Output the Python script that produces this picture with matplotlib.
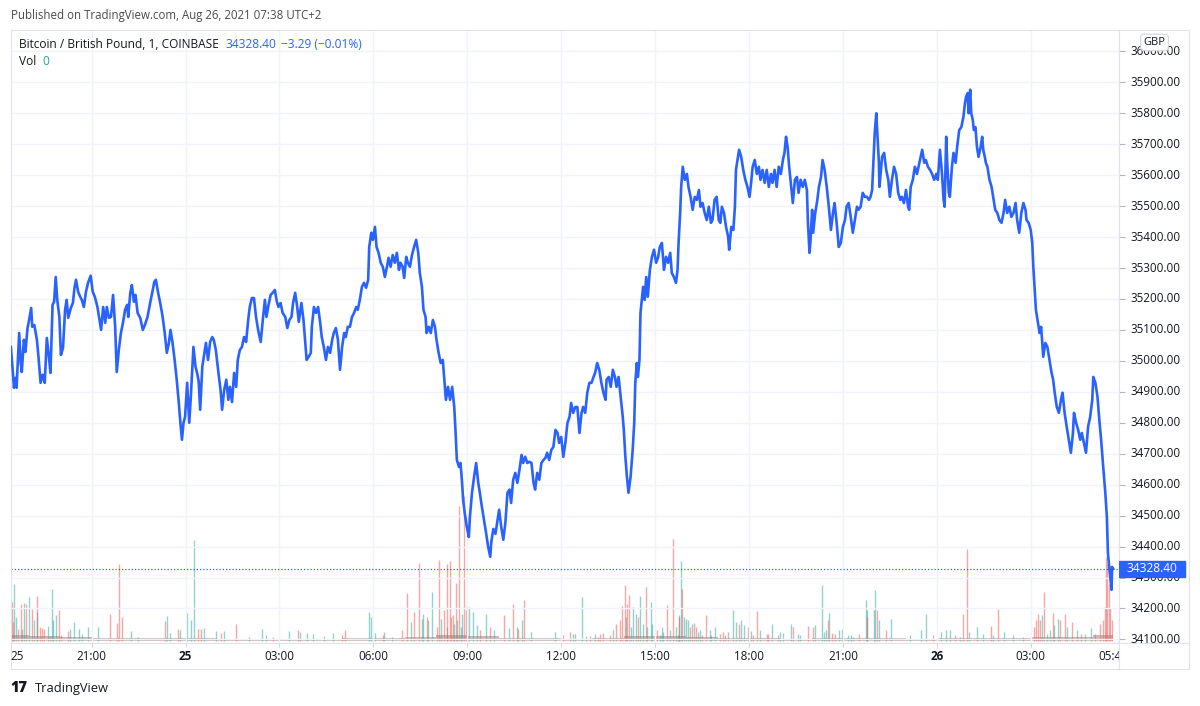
import numpy as np
import matplotlib.pyplot as plt
from matplotlib.patches import Rectangle

plt.rcParams['font.family'] = ['Open Sans', 'DejaVu Sans']

# BTC/GBP 1 min, COINBASE. times = minutes after 24 Aug 2021 18:00 UTC
price_min = [
    25, 29, 31, 34, 36, 41, 44, 46, 50, 53, 57, 60, 64, 66, 70, 75, 78, 82, 86, 90,
    94, 98, 101, 105, 108, 111, 114, 118, 121, 125, 129, 132, 135, 140, 144, 147, 150, 154, 158, 161,
    165, 169, 173, 178, 182, 186, 191, 195, 198, 202, 206, 209, 213, 217, 221, 225, 228, 232, 236, 240,
    244, 248, 250, 254, 257, 261, 264, 268, 273, 278, 282, 287, 292, 296, 300, 303, 307, 312, 316, 320,
    324, 328, 331, 335, 339, 343, 347, 350, 353, 356, 359, 363, 367, 370, 375, 379, 382, 385, 388, 392,
    396, 399, 403, 407, 411, 414, 418, 423, 427, 430, 434, 438, 442, 445, 449, 453, 457, 460, 464, 468,
    472, 476, 480, 483, 487, 491, 495, 499, 504, 508, 512, 515, 519, 523, 527, 531, 535, 538, 542, 546,
    551, 555, 559, 563, 566, 570, 574, 577,
    582, 586, 589, 592, 596, 600, 602, 606, 610, 614, 618, 621, 625, 629, 633, 637, 641, 644, 648, 652,
    656, 660, 664, 667, 671, 675, 679, 683, 687, 690, 694, 698, 702, 706, 710, 712, 716, 719, 723, 726,
    730, 734, 738, 742, 746, 749, 753, 757, 761, 765, 769, 772, 776, 779, 783, 786, 790, 794, 798, 802,
    806, 809, 813, 816, 820, 822, 826, 830, 834, 838, 841, 845, 849, 853, 857, 859, 863, 867, 871, 875,
    877, 880, 884, 887, 890, 892, 895, 899, 903, 905, 909, 913, 917, 921, 924, 928, 932, 936, 940, 944,
    946, 950, 954, 958, 961, 965, 969, 973, 977, 981, 984, 988, 992, 996, 1000, 1004, 1007, 1011, 1015, 1019,
    1023, 1027, 1030, 1034, 1038, 1042, 1046, 1050, 1053, 1057, 1061, 1065, 1069, 1073, 1076, 1080, 1084, 1088, 1092, 1096,
    1099, 1103, 1107, 1111, 1115, 1119, 1122, 1126, 1130, 1134, 1138, 1142, 1145, 1149, 1153, 1157, 1161, 1165, 1167, 1171,
    1175, 1179, 1183, 1186, 1190, 1194, 1198, 1200, 1203, 1206, 1209, 1213, 1217, 1220, 1222, 1225, 1227, 1230, 1232, 1235,
    1237, 1240, 1243, 1246, 1250, 1254, 1258, 1262, 1266, 1269, 1273, 1277, 1281, 1285, 1289, 1292, 1296, 1300, 1303, 1305,
    1308, 1310, 1313, 1317, 1321, 1324, 1328, 1332, 1336, 1340, 1344, 1347, 1351, 1355, 1359, 1363, 1367, 1370, 1374, 1378,
    1382,
    1385, 1388, 1392, 1396, 1400, 1402, 1406, 1410, 1413, 1415, 1419, 1421, 1425, 1429, 1433, 1437, 1441, 1444, 1447, 1451,
    1455, 1459, 1462, 1466, 1470, 1474, 1478, 1482, 1485, 1489, 1493, 1497, 1501, 1505, 1508, 1511, 1514, 1517, 1521, 1524,
    1528, 1532, 1535, 1539, 1543, 1547, 1551, 1553, 1556, 1558, 1561, 1563, 1567, 1571, 1574, 1578, 1581, 1585, 1589, 1593,
    1597, 1601, 1604, 1608, 1612, 1616, 1620, 1624, 1627, 1631, 1635, 1639, 1643, 1647, 1650, 1654, 1658, 1662, 1666, 1670,
    1673, 1676, 1678, 1681, 1684, 1686, 1689, 1690, 1693, 1695, 1699, 1703, 1707, 1710, 1714, 1718, 1722, 1726, 1730, 1733,
    1737, 1741, 1745, 1747, 1750, 1754, 1758, 1762, 1765, 1769, 1772, 1776, 1779, 1783, 1787, 1791, 1795, 1799, 1802, 1806,
    1810, 1813, 1815, 1818, 1820, 1823, 1825, 1829, 1832, 1836, 1839, 1843, 1847, 1851, 1854, 1856, 1859, 1861, 1864, 1866,
    1869, 1871, 1874, 1877, 1880, 1884, 1887, 1889, 1892, 1894, 1897, 1901, 1905, 1908, 1912, 1916, 1920, 1924, 1928, 1931,
    1935, 1939, 1943, 1947, 1951, 1954, 1958, 1962, 1966, 1970, 1972, 1976, 1980, 1983, 1985, 1988, 1990, 1993, 1997, 2000,
    2004, 2008, 2012, 2016, 2020, 2023, 2026, 2030, 2034, 2038, 2041, 2045, 2049, 2053, 2057, 2061, 2063, 2067, 2071, 2075,
    2078, 2082, 2086, 2090, 2094, 2098, 2100, 2104, 2108, 2112, 2115, 2119, 2123, 2126, 2128, 2131, 2133, 2135, 2136, 2138,
]
price = [
    35045, 34961, 34913, 34945, 34913, 35090, 34993, 34964, 35068, 35029, 35106, 35132, 35171, 35110, 35116, 35068, 35013, 34929, 34955, 34929,
    35074, 35013, 34961, 35181, 35191, 35271, 35197, 35142, 35019, 35042, 35165, 35197, 35139, 35171, 35187, 35236, 35262, 35223, 35207, 35197,
    35174, 35223, 35252, 35275, 35223, 35207, 35174, 35132, 35100, 35174, 35123, 35174, 35139, 35142, 35213, 35110, 34964, 35035, 35090, 35123,
    35165, 35181, 35142, 35220, 35245, 35191, 35213, 35155, 35139, 35100, 35116, 35142, 35187, 35220, 35255, 35262, 35223, 35181, 35142, 35090,
    35026, 35058, 35100, 35058, 35003, 34939, 34864, 34800, 34745, 34800, 34819, 34929, 34800, 34884, 35045, 34981, 34961, 34935, 34842, 34981,
    35026, 35058, 35003, 35061, 35077, 35068, 35035, 34961, 34906, 34842, 34906, 34939, 34874, 34916, 34867, 34961, 34916, 35003, 35035, 35045,
    35077, 35061, 35132, 35174, 35203, 35203, 35142, 35100, 35061, 35132, 35197, 35142, 35181, 35213, 35220, 35229, 35191, 35174, 35187, 35155,
    35142, 35106, 35132, 35142, 35187, 35220, 35174, 35126,
    35187, 35132, 35068, 35003, 35013, 35026, 35110, 35174, 35155, 35174, 35123, 35077, 35045, 35003, 35045, 35026, 35068, 35090, 35106, 35068,
    34971, 35045, 35090, 35077, 35110, 35110, 35142, 35155, 35174, 35165, 35197, 35239, 35252, 35236, 35262, 35368, 35414, 35391, 35433, 35368,
    35349, 35317, 35304, 35271, 35304, 35333, 35304, 35342, 35317, 35349, 35294, 35317, 35304, 35268, 35336, 35317, 35304, 35342, 35368, 35391,
    35349, 35284, 35239, 35165, 35142, 35090, 35110, 35090, 35132, 35110, 35068, 35026, 34993, 35003, 34916, 34874, 34916, 34874, 34916, 34851,
    34787, 34680, 34657, 34670, 34606, 34551, 34509, 34464, 34431, 34496, 34574, 34625, 34670, 34606, 34574, 34528, 34486, 34444, 34399, 34367,
    34415, 34457, 34441, 34486, 34519, 34464, 34422, 34477, 34574, 34584, 34541, 34616, 34638, 34606, 34648, 34696, 34670, 34690, 34670, 34674,
    34670, 34606, 34584, 34638, 34616, 34670, 34680, 34687, 34703, 34680, 34712, 34722, 34777, 34767, 34735, 34754, 34690, 34735, 34800, 34819,
    34864, 34832, 34851, 34851, 34767, 34832, 34851, 34832, 34897, 34929, 34929, 34948, 34961, 34993, 34971, 34929, 34897, 34874, 34939, 34948,
    34916, 34971, 34948, 34916, 34948, 34884, 34819, 34777, 34690, 34625, 34574, 34625, 34712, 34800, 34929, 34993, 34948, 35003, 35155, 35207,
    35239, 35197, 35271, 35207, 35294, 35336, 35359, 35317, 35336, 35368, 35381, 35294, 35336, 35317, 35349, 35284, 35271, 35252, 35294, 35381,
    35478, 35562, 35627, 35585, 35604, 35562, 35530, 35488, 35530, 35520, 35552, 35498, 35510, 35478, 35455, 35498, 35446, 35455, 35520, 35530,
    35455,
    35446, 35498, 35478, 35433, 35401, 35359, 35433, 35423, 35498, 35617, 35659, 35682, 35659, 35617, 35585, 35562, 35530, 35575, 35627, 35649,
    35604, 35627, 35585, 35617, 35575, 35617, 35562, 35604, 35575, 35617, 35562, 35627, 35604, 35649, 35672, 35724, 35691, 35627, 35562, 35510,
    35585, 35594, 35543, 35585, 35562, 35585, 35552, 35446, 35349, 35391, 35488, 35414, 35478, 35520, 35562, 35594, 35649, 35617, 35562, 35498,
    35423, 35478, 35510, 35446, 35368, 35381, 35433, 35455, 35498, 35510, 35465, 35414, 35455, 35498, 35488, 35498, 35543, 35530, 35530, 35520,
    35530, 35552, 35627, 35736, 35800, 35736, 35640, 35562, 35617, 35659, 35672, 35617, 35585, 35530, 35585, 35627, 35604, 35543, 35520, 35530,
    35510, 35552, 35498, 35488, 35562, 35585, 35627, 35604, 35627, 35659, 35682, 35640, 35649, 35627, 35617, 35604, 35585, 35604, 35585, 35682,
    35604, 35520, 35498, 35724, 35640, 35543, 35530, 35627, 35672, 35640, 35691, 35746, 35755, 35788, 35833, 35852, 35865, 35800, 35876, 35800,
    35778, 35746, 35755, 35691, 35659, 35691, 35724, 35682, 35659, 35640, 35627, 35585, 35562, 35530, 35488, 35478, 35455, 35446, 35478, 35520,
    35478, 35498, 35465, 35478, 35510, 35455, 35414, 35478, 35510, 35488, 35455, 35446, 35423, 35381, 35304, 35220, 35165, 35132, 35090, 35110,
    35013, 35058, 35045, 35003, 34961, 34939, 34897, 34851, 34832, 34874, 34897, 34832, 34787, 34745, 34703, 34767, 34832, 34800, 34777, 34745,
    34767, 34735, 34703, 34787, 34819, 34874, 34948, 34929, 34884, 34800, 34745, 34657, 34574, 34496, 34380, 34325, 34293, 34260, 34334, 34328.40,
]

# 1-min volume (BTC) of the visible bars, split by candle direction
up_min = [
    32, 34, 46, 51, 60, 70, 76, 96, 104, 106,
    111, 138, 147, 156, 161, 172, 193, 255, 269, 325,
    331, 349, 363, 370, 377, 396, 418, 434, 482, 506,
    515, 559, 579, 592, 605, 625, 643, 712, 715, 723,
    755, 740, 793, 813, 816, 825, 833, 850, 862, 875,
    881, 887, 889, 900, 903, 910, 918, 936, 952, 979,
    995, 1004, 1023, 1068, 1103, 1119, 1180, 1213, 1218, 1223,
    1232, 1236, 1245, 1252, 1255, 1273, 1289, 1300, 1309, 1315,
    1319, 1324, 1330, 1346, 1365, 1375, 1409, 1415, 1425, 1430,
    1461, 1485, 1499, 1520, 1538, 1567, 1580, 1588, 1593, 1613,
    1618, 1636, 1664, 1667, 1680, 1682, 1689, 1712, 1749, 1769,
    1779, 1808, 1818, 1825, 1845, 1862, 1877, 1889, 1908, 1928,
    1947, 1966, 2001, 2011, 2017, 2025, 2033, 2049, 2068, 2084,
    2096, 1107, 1128, 1145, 1205, 1270, 1275, 1303, 1306, 1343,
    1367, 1394, 1443, 1506, 1533, 1584, 1630, 1639,
]
up_vol = [
    2.85, 1.2, 0.6, 1.9, 2.2, 1.05, 1.45, 0.75, 2.6, 1.05,
    1.3, 0.6, 0.95, 0.6, 0.35, 0.7, 0.7, 0.5, 0.2, 1.25,
    0.4, 0.55, 1.4, 1.05, 5.05, 0.65, 0.5, 0.5, 0.2, 0.6,
    0.3, 0.5, 0.45, 0.4, 0.35, 0.25, 0.4, 1.45, 1.2, 0.4,
    0.2, 0.45, 0.95, 1.1, 1.35, 1.05, 2.45, 1.1, 0.7, 0.85,
    1.05, 0.7, 1.35, 1.8, 1.7, 1.45, 0.8, 1.35, 0.55, 0.65,
    0.7, 1.05, 0.45, 0.45, 0.35, 2.2, 0.55, 0.7, 1.7, 1.35,
    2.25, 0.85, 0.7, 1.95, 0.85, 0.7, 0.55, 0.7, 4.0, 1.2,
    1.1, 1.05, 0.85, 0.55, 0.55, 0.7, 1.55, 0.95, 1.05, 0.8,
    0.55, 0.85, 0.45, 0.85, 0.3, 0.8, 2.8, 0.55, 1.4, 0.55,
    0.6, 0.3, 2.05, 1.55, 1.55, 2.55, 1.05, 1.1, 0.3, 0.55,
    1.35, 0.45, 0.55, 0.55, 0.2, 0.45, 0.7, 0.35, 0.3, 0.45,
    0.3, 0.2, 1.3, 0.35, 0.55, 0.8, 1.1, 0.7, 0.55, 0.35,
    0.65, 0.35, 0.25, 0.35, 1.2, 0.3, 0.45, 0.3, 1.3, 0.45,
    0.3, 0.3, 0.5, 0.4, 0.35, 0.45, 0.3, 0.2,
]
dn_min = [
    27, 30, 39, 44, 54, 65, 75, 81, 84, 88,
    100, 117, 121, 134, 180, 215, 229, 233, 239, 320,
    346, 384, 390, 428, 457, 528, 576, 659, 666, 739,
    774, 784, 798, 808, 822, 841, 846, 856, 861, 867,
    869, 872, 878, 885, 894, 898, 924, 944, 970, 987,
    998, 1009, 1154, 1186, 1197, 1202, 1206, 1210, 1228, 1242,
    1263, 1282, 1295, 1305, 1312, 1338, 1358, 1391, 1420, 1439,
    1455, 1477, 1524, 1554, 1563, 1591, 1605, 1650, 1666, 1685,
    1703, 1792, 1834, 1851, 1857, 1903, 1917, 1986, 1990, 1994,
    1997, 2006, 2023, 2036, 2045, 2059, 2076, 2103, 2112, 2118,
    2123, 2124, 2127, 2130, 2132, 2135, 1083, 1096, 1135, 1151,
    1160, 1174, 1193, 1326, 1335, 1350, 1384, 1400, 1447, 1474,
    1496, 1599,
]
dn_vol = [
    1.95, 0.95, 0.6, 1.85, 1.85, 1.6, 2.25, 0.7, 0.65, 0.6,
    0.25, 1.55, 0.3, 0.5, 0.2, 1.35, 0.9, 3.85, 1.2, 1.0,
    0.6, 0.6, 0.6, 0.4, 0.85, 0.2, 0.55, 0.3, 0.55, 0.3,
    0.55, 2.4, 1.45, 3.9, 1.2, 0.7, 4.05, 1.55, 3.85, 4.0,
    1.2, 1.3, 2.9, 6.75, 7.25, 1.55, 0.55, 0.7, 1.3, 1.85,
    0.6, 2.05, 0.35, 0.85, 1.75, 2.8, 1.85, 2.3, 1.2, 2.7,
    0.55, 1.8, 5.1, 1.2, 2.6, 0.7, 1.3, 0.45, 0.85, 0.7,
    1.5, 0.35, 0.7, 0.75, 0.7, 1.05, 0.35, 0.35, 1.2, 1.55,
    0.55, 0.3, 0.3, 1.35, 4.6, 0.75, 1.6, 0.7, 1.05, 1.35,
    1.05, 2.45, 1.4, 1.05, 1.35, 0.95, 0.35, 0.35, 0.85, 1.05,
    1.7, 4.2, 3.85, 2.85, 1.65, 1.05, 0.3, 0.45, 0.25, 0.2,
    0.4, 0.3, 1.05, 0.7, 0.9, 0.3, 0.35, 0.45, 0.3, 0.35,
    0.3, 0.4,
]

# typical height of the dense small-volume floor, per hour from 18:00 (BTC)
floor_hour_edges = [0.42] + list(range(1, 36)) + [35.64]
floor_vol = [
    0.3, 0.25, 0.2, 0.15, 0.15, 0.15, 0.15, 0.12, 0.12, 0.12, 0.12, 0.15,
    0.15, 0.2, 0.3, 0.25, 0.15, 0.15, 0.12, 0.15, 0.25, 0.25, 0.2, 0.15,
    0.15, 0.12, 0.15, 0.15, 0.15, 0.12, 0.15, 0.15, 0.15, 0.2, 0.2, 0.3,
]

last_price = 34328.40
last_change = '\u22123.29 (\u22120.01%)'

price_ticks = np.arange(34100, 36001, 100)
time_pos = [0.613, 3, 6, 9, 12, 15, 18, 21, 24, 27, 30, 33, 35.63]
time_lbl = ['25', '21:00', '25', '03:00', '06:00', '09:00', '12:00',
            '15:00', '18:00', '21:00', '26', '03:00', '05:40']
time_bold = [False, False, True, False, False, False, False,
             False, False, False, True, False, False]

W, H = 1200, 706
def fx(px):
    return px / W
def fy(py):
    return 1 - py / H

BLUE = '#2962ff'
BORDER = '#e0e3eb'
GRID = '#f0f3fa'
TXT = '#131722'

fig = plt.figure(figsize=(W / 100, H / 100), dpi=100)

x0, x1 = 0.406, 35.821
y0, y1 = 34088.4, 36070.6
rect = [fx(10.5), fy(643), fx(1119) - fx(10.5), fy(29.5) - fy(643)]

# volume pane sits underneath the price pane
vax = fig.add_axes(rect)
vax.set_xlim(x0, x1)
vax.set_ylim(-0.1, 30.575)
vax.axis('off')
vax.stairs(floor_vol, floor_hour_edges, fill=True, color='#b89c98', alpha=0.7, lw=0)
vax.vlines(np.array(up_min) / 60, 0, up_vol, colors='#26a69a', lw=1.0, alpha=0.5)
vax.vlines(np.array(dn_min) / 60, 0, dn_vol, colors='#ef5350', lw=1.0, alpha=0.5)

ax = fig.add_axes(rect)
ax.patch.set_visible(False)
ax.set_xlim(x0, x1)
ax.set_ylim(y0, y1)
for t in time_pos[1:-1]:
    ax.axvline(t, color=GRID, lw=1, zorder=0)
for p in price_ticks:
    ax.axhline(p, color=GRID, lw=1, zorder=0)
ax.set_xticks([])
ax.set_yticks([])
for s in ax.spines.values():
    s.set_color(BORDER)
ax.axhline(last_price, color=BLUE, lw=0.9, ls=(0, (1, 1.6)), zorder=2)
ax.plot(np.array(price_min) / 60, price, color=BLUE, lw=1.9,
        solid_joinstyle='round', zorder=3)

# price scale
pax = fig.add_axes([fx(1119), fy(643), fx(1189) - fx(1119), fy(29.5) - fy(643)])
pax.set_xlim(0, 70)
pax.set_ylim(y0, y1)
pax.set_xticks([])
pax.set_yticks(price_ticks)
pax.tick_params(axis='y', direction='in', length=4, color='#b2b5be', labelleft=False)
for s in pax.spines.values():
    s.set_color(BORDER)
for p in price_ticks:
    pax.text(11, p, f'{p:.2f}', va='center', ha='left', fontsize=8.4,
             color=TXT, clip_on=True)
pax.add_patch(Rectangle((0, last_price - 26), 66, 52, color=BLUE, zorder=5))
pax.text(33, last_price, f'{last_price:.2f}', color='white', fontsize=8.6,
         ha='center', va='center', zorder=6)

# time scale
tax = fig.add_axes([fx(10.5), fy(669), fx(1119) - fx(10.5), fy(643) - fy(669)])
tax.set_xlim(x0, x1)
tax.set_ylim(0, 1)
tax.set_yticks([])
tax.set_xticks(time_pos[1:-1])
tax.tick_params(axis='x', direction='in', length=3, color='#d1d4dc',
                bottom=False, top=True, labelbottom=False)
for s in tax.spines.values():
    s.set_color(BORDER)
for t, lab, b in zip(time_pos, time_lbl, time_bold):
    tax.text(t, 0.5, lab, ha='center', va='center', fontsize=8.4, color=TXT,
             fontweight='bold' if b else 'normal', clip_on=True)

cax = fig.add_axes([fx(1119), fy(669), fx(1189) - fx(1119), fy(643) - fy(669)])
cax.set_xticks([])
cax.set_yticks([])
for s in cax.spines.values():
    s.set_color(BORDER)

fig.text(fx(1154.5), fy(42.5), 'GBP', ha='center', va='center', fontsize=8, color=TXT,
         bbox=dict(boxstyle='round,pad=0.25', fc='white', ec='#d1d4dc', lw=0.8))

# header and legend
fig.text(fx(11), fy(15.5), 'Published on TradingView.com, Aug 26, 2021 07:38 UTC+2',
         fontsize=8.3, color='#4a4a4a', va='center')
fig.text(fx(19.3), fy(44), 'Bitcoin / British Pound, 1, COINBASE',
         fontsize=8.55, color=TXT, va='center')
fig.text(fx(225.3), fy(44), f'{last_price:.2f}', fontsize=8.55, color=BLUE, va='center')
fig.text(fx(280.7), fy(44), last_change, fontsize=8.55, color=BLUE, va='center')
fig.text(fx(19.3), fy(61.5), 'Vol', fontsize=8.55, color=TXT, va='center')
fig.text(fx(42.7), fy(61.5), '0', fontsize=8.55, color='#26a69a', va='center')

fig.text(fx(10), fy(688.5), '17', fontsize=10.5, fontweight='heavy', color=TXT, va='center')
fig.text(fx(35), fy(688.5), 'TradingView', fontsize=9.3, color=TXT, va='center')

fig.savefig('out.png', dpi=100, facecolor='white')
